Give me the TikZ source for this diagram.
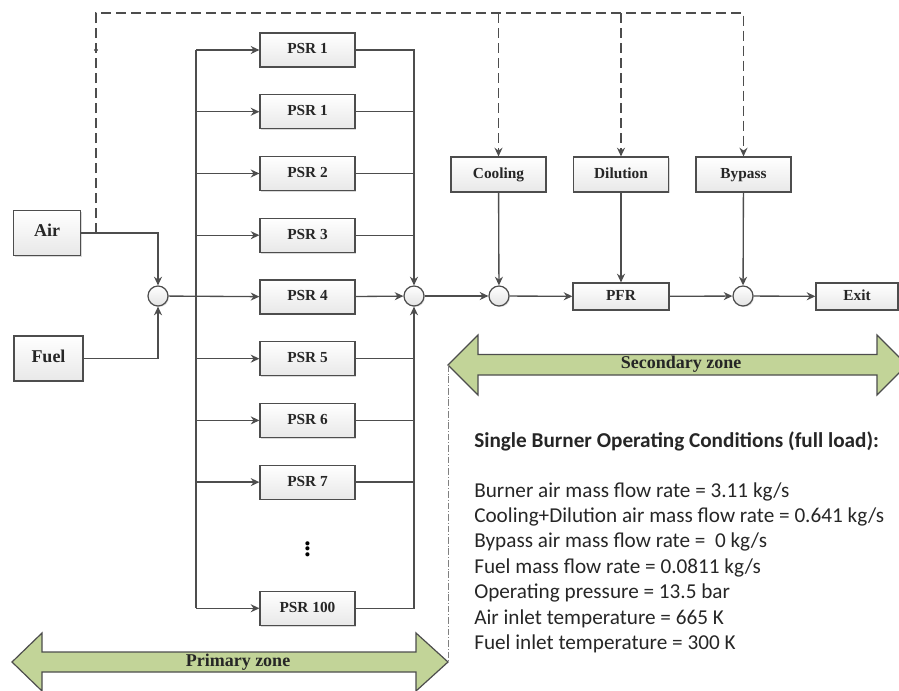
\documentclass[tikz,border=0pt]{standalone}
\usepackage{fontspec}
\setmainfont{Liberation Serif}
\newfontfamily\condfont{Carlito}
\usepackage{xcolor}
\usepackage{tikz}
\usetikzlibrary{arrows.meta, positioning, shadows, calc}

\definecolor{linegray}{RGB}{77,77,77}
\definecolor{zonegreen}{RGB}{194,212,152}

\begin{document}
\begin{tikzpicture}[
    x=0.75pt, y=-0.75pt,
    node distance=19.9pt,
    box/.style={rectangle, draw=linegray, line width=0.9pt, top color=white, bottom color=gray!18, drop shadow={shadow xshift=1pt, shadow yshift=-1pt, opacity=0.3}, minimum width=71.25pt, minimum height=25.5pt, inner sep=1pt, text height=1.6ex, text depth=0.3ex, font=\fontsize{11.5}{13}\selectfont\bfseries, text=black!85},
    srcbox/.style={box, minimum width=50pt, minimum height=33.75pt, font=\fontsize{13.5}{15}\selectfont\bfseries},
    flatbox/.style={box, minimum width=72pt, minimum height=20.25pt},
    junction/.style={circle, draw=linegray, line width=0.9pt, top color=white, bottom color=gray!22, drop shadow={shadow xshift=0.8pt, shadow yshift=-0.8pt, opacity=0.25}, minimum size=15pt, inner sep=0pt},
    wire/.style={draw=linegray, line width=1pt},
    arrow/.style={wire, -{Stealth[length=6.5pt, width=6pt]}},
    airdash/.style={dash pattern=on 7.5pt off 3.75pt},
    zone/.style={draw=linegray, line width=0.9pt, fill=zonegreen},
    zonetext/.style={font=\fontsize{13.5}{15}\selectfont\bfseries, text=black!85},
    zoneguide/.style={draw=gray, line width=0.5pt, dash pattern=on 5pt off 1.5pt on 0.6pt off 1.5pt},
    cond/.style={font=\condfont\fontsize{15.9}{19.1}\selectfont, align=left, inner sep=0pt, text=black!85}
]
\useasboundingbox (0,0) rectangle (899,690);
\clip (0,0) rectangle (899,690);

% Inlets
\node[srcbox] (air) at (47,233) {Air};
\node[srcbox, minimum width=51.75pt] (fuel) at (48.5,358.5) {Fuel};
\node[junction] (j1) at (158,296) {};

% Primary zone reactors
\node[box] (psr1) at (307.5,50) {PSR 1};
\node[box, below=of psr1] (psr1b) {PSR 1};
\node[box, below=of psr1b] (psr2) {PSR 2};
\node[box, below=of psr2] (psr3) {PSR 3};
\node[box, below=of psr3] (psr4) {PSR 4};
\node[box, below=of psr4] (psr5) {PSR 5};
\node[box, below=of psr5] (psr6) {PSR 6};
\node[box, below=of psr6] (psr7) {PSR 7};
\node[box, below=68.2pt of psr7] (psr100) {PSR 100};
\node[font=\fontsize{19}{19}\selectfont\bfseries, inner sep=0pt] (dots) at ($(psr7)!0.5!(psr100)$) {$\vdots$};
\node[junction] (j2) at (414,296) {};
\coordinate (busL) at (196,0);

% Secondary zone
\node[junction] (j3) at (499,296) {};
\node[box, minimum height=26.25pt] (cooling) at (498.5,174.5) {Cooling};
\node[box, minimum height=26.25pt] (dilution) at (621,174.5) {Dilution};
\node[box, minimum height=26.25pt] (bypass) at (743.5,174.5) {Bypass};
\node[flatbox] (pfr) at (621,296.5) {PFR};
\node[junction] (j4) at (743,296) {};
\node[flatbox, minimum width=61.5pt] (exit) at (857,296.5) {Exit};

% Air split (dashed)
\coordinate (tap) at (96,233);
\coordinate (top) at (96,13);
\node[circle, draw=linegray, line width=0.5pt, inner sep=0.9pt] (tapdot) at (96,50) {};

% Arrows - inlets
\draw[arrow] (air.east) -| (j1);
\draw[arrow] (fuel.east) -| (j1);

% Arrows - splitter
\draw[wire] (busL |- psr1) -- (busL |- psr100);
\draw[arrow] (j1) -- (psr4);
\draw[arrow] (busL |- psr1) -- (psr1);
\draw[arrow] (busL |- psr1b) -- (psr1b);
\draw[arrow] (busL |- psr2) -- (psr2);
\draw[arrow] (busL |- psr3) -- (psr3);
\draw[arrow] (busL |- psr5) -- (psr5);
\draw[arrow] (busL |- psr6) -- (psr6);
\draw[arrow] (busL |- psr7) -- (psr7);
\draw[arrow] (busL |- psr100) -- (psr100);

% Arrows - mixer
\draw[arrow] (psr1) -| (j2);
\draw[arrow] (psr100) -| (j2);
\draw[arrow] (psr4) -- (j2);
\draw[wire] (psr1b) -- (j2 |- psr1b);
\draw[wire] (psr2) -- (j2 |- psr2);
\draw[wire] (psr3) -- (j2 |- psr3);
\draw[wire] (psr5) -- (j2 |- psr5);
\draw[wire] (psr6) -- (j2 |- psr6);
\draw[wire] (psr7) -- (j2 |- psr7);

% Arrows - secondary zone
\draw[arrow] (j2) -- (j3);
\draw[arrow] (cooling) -- (j3);
\draw[arrow] (j3) -- (pfr);
\draw[arrow] (dilution) -- (pfr);
\draw[arrow] (pfr) -- (j4);
\draw[arrow] (bypass) -- (j4);
\draw[arrow] (j4) -- (exit);

% Dashed air lines
\draw[arrow, airdash] (tap) -- (top) -| (bypass);
\draw[arrow, airdash] (cooling |- top) -- (cooling);
\draw[arrow, airdash] (dilution |- top) -- (dilution);

% Zones
\coordinate (sectip) at (448,365);
\coordinate (primtip) at (448,662);
\draw[zone] (12,662) -- (42,633) -- (42,652) -- (416,652) -- (416,633) -- (primtip) -- (416,691) -- (416,672) -- (42,672) -- (42,691) -- cycle;
\node[zonetext] (primary) at (238,662) {Primary zone};
\draw[zone] (sectip) -- (478,335) -- (478,354.5) -- (877,354.5) -- (877,335) -- (907,365) -- (877,395) -- (877,375) -- (478,375) -- (478,395) -- cycle;
\node[zonetext] (secondary) at (681,364) {Secondary zone};
\draw[zoneguide] (sectip) -- (primtip);

% Operating conditions
\node[cond, anchor=north west] (conditions) at (474,431) {\textbf{Single Burner Operating Conditions (full load):}\\[18.4pt]
Burner air mass flow rate = 3.11 kg/s\\
Cooling+Dilution air mass flow rate = 0.641 kg/s\\
Bypass air mass flow rate = \ 0 kg/s\\
Fuel mass flow rate = 0.0811 kg/s\\
Operating pressure = 13.5 bar\\
Air inlet temperature = 665 K\\
Fuel inlet temperature = 300 K};

\end{tikzpicture}
\end{document}
